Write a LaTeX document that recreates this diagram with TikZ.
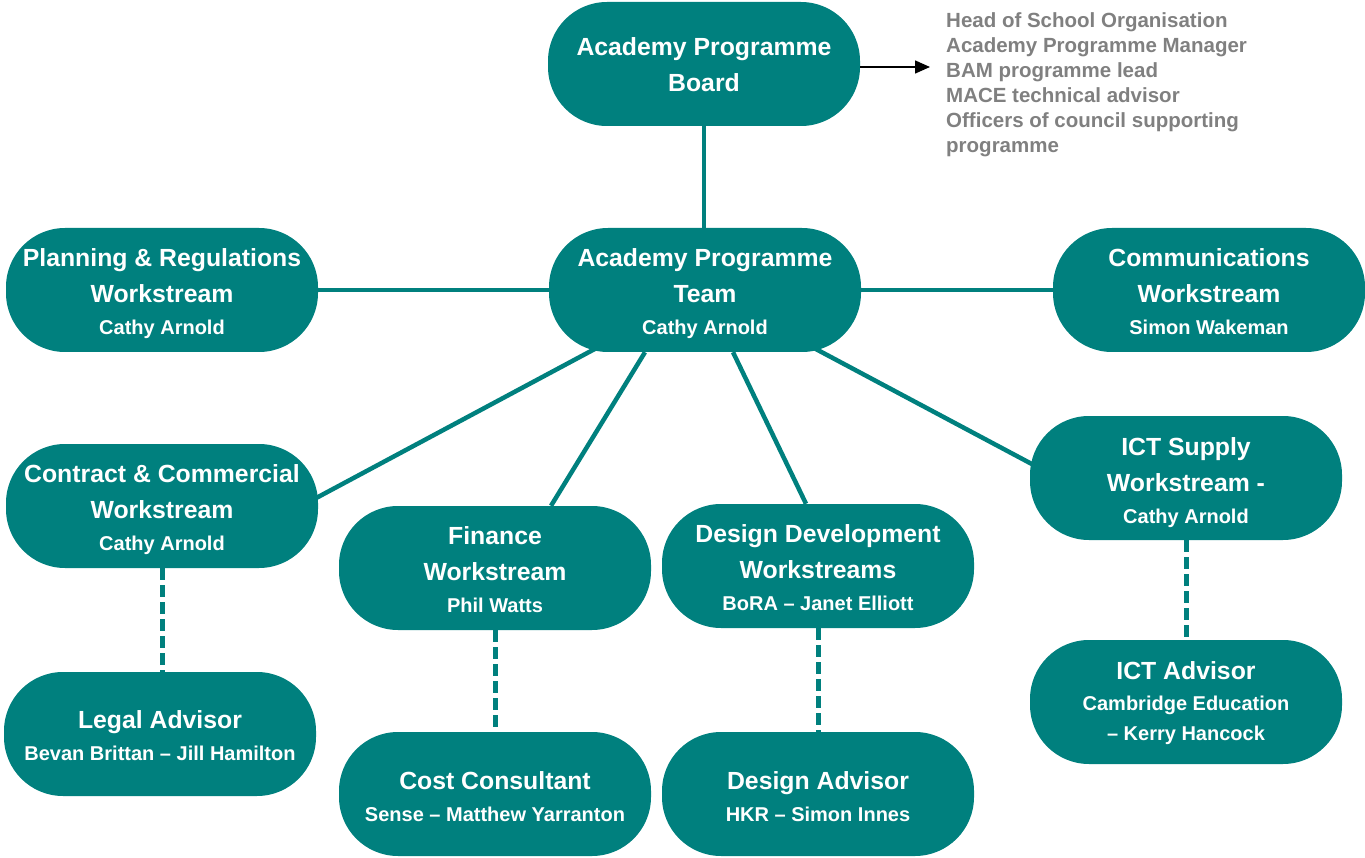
\documentclass[tikz,border=0pt]{standalone}
\usepackage{fontspec}
\setmainfont{Liberation Sans}
\usetikzlibrary{arrows.meta,calc}
\definecolor{boxteal}{RGB}{0,128,126}
\definecolor{notegray}{RGB}{128,128,128}
\pgfdeclarelayer{background}
\pgfsetlayers{background,main}
\newcommand{\smallf}{\fontsize{20}{24}\selectfont}
\newcommand{\tallstrut}[1]{\rule{0pt}{#1pt}}
\begin{document}
\begin{tikzpicture}[x=1pt,y=-1pt,
  box/.style={fill=boxteal, draw=none, text=white, rounded corners=59pt,
    minimum width=312pt, minimum height=124pt, inner sep=1pt, align=center,
    font=\bfseries\fontsize{24.8}{36}\selectfont},
  conn/.style={draw=boxteal, line width=4.5pt},
  dashconn/.style={draw=boxteal, line width=5pt, dash pattern=on 12pt off 5pt},
  note/.style={text=notegray, align=left, anchor=north west, inner sep=0pt,
    font=\bfseries\fontsize{20.5}{25}\selectfont}]
\useasboundingbox (0,0) rectangle (1365,858);

\node[box] (board) at (704,64) {\tallstrut{19}Academy Programme\\Board};
\node[box] (team) at (705,290) {\tallstrut{25}Academy Programme\\Team\\[-4pt]{\smallf Cathy Arnold}};
\node[box] (plan) at (162,290) {\tallstrut{25}Planning \& Regulations\\Workstream\\[-4pt]{\smallf Cathy Arnold}};
\node[box] (comm) at (1209,290) {\tallstrut{21}Communications\\Workstream\\[-4pt]{\smallf Simon Wakeman}};
\node[box] (contract) at (162,506) {\tallstrut{25}Contract \& Commercial\\Workstream\\[-4pt]{\smallf Cathy Arnold}};
\node[box] (finance) at (495,568) {\tallstrut{22}Finance\\Workstream\\[-4pt]{\smallf Phil Watts}};
\node[box] (designdev) at (818,566) {\tallstrut{22}Design Development\\Workstreams\\[-4pt]{\smallf BoRA – Janet Elliott}};
\node[box] (ict) at (1186,478) {\tallstrut{28}ICT Supply\\Workstream -\\[-4pt]{\smallf Cathy Arnold}};
\node[box] (legal) at (160,734) {\tallstrut{22}Legal Advisor\\[-4pt]{\smallf Bevan Brittan – Jill Hamilton}};
\node[box] (cost) at (495,794) {\tallstrut{24}Cost Consultant\\[-4pt]{\smallf Sense – Matthew Yarranton}};
\node[box] (designadv) at (818,794) {\tallstrut{24}Design Advisor\\[-4pt]{\smallf HKR – Simon Innes}};
\node[box] (ictadv) at (1186,702) {\tallstrut{20}ICT Advisor\\[-5pt]{\smallf Cambridge Education}\\[-6pt]{\smallf – Kerry Hancock}};

\node[note] (members) at (946,12) {Head of School Organisation\\Academy Programme Manager\\BAM programme lead\\MACE technical advisor\\Officers of council supporting\\programme};

\coordinate (arrowend) at (930,67);
\draw[-{Triangle[length=15pt,width=13pt]}, line width=1.5pt, black] (board.east |- arrowend) -- (arrowend);

\begin{pgfonlayer}{background}
\draw[conn] (board.center) -- (board.center |- team.center);
\draw[conn] (team.center) -- (plan.center);
\draw[conn] (team.center) -- (comm.center);
\draw[conn] (team.center) -- ($(contract.east)+(-2,-8)$);
\draw[conn] ($(team.south)+(-60,0)$) -- ($(finance.north)+(56,0)$);
\draw[conn] ($(team.south)+(28,0)$) -- ($(designdev.north)+(-12,0)$);
\draw[conn] (team.center) -- ($(ict.west)+(2,-14)$);
\end{pgfonlayer}
\draw[dashconn] (contract.south) -- (contract.south |- legal.north);
\draw[dashconn] (finance.south) -- (finance.south |- cost.north);
\draw[dashconn] (designdev.south) -- (designdev.south |- designadv.north);
\draw[dashconn] (ict.south) -- (ict.south |- ictadv.north);
\end{tikzpicture}
\end{document}
